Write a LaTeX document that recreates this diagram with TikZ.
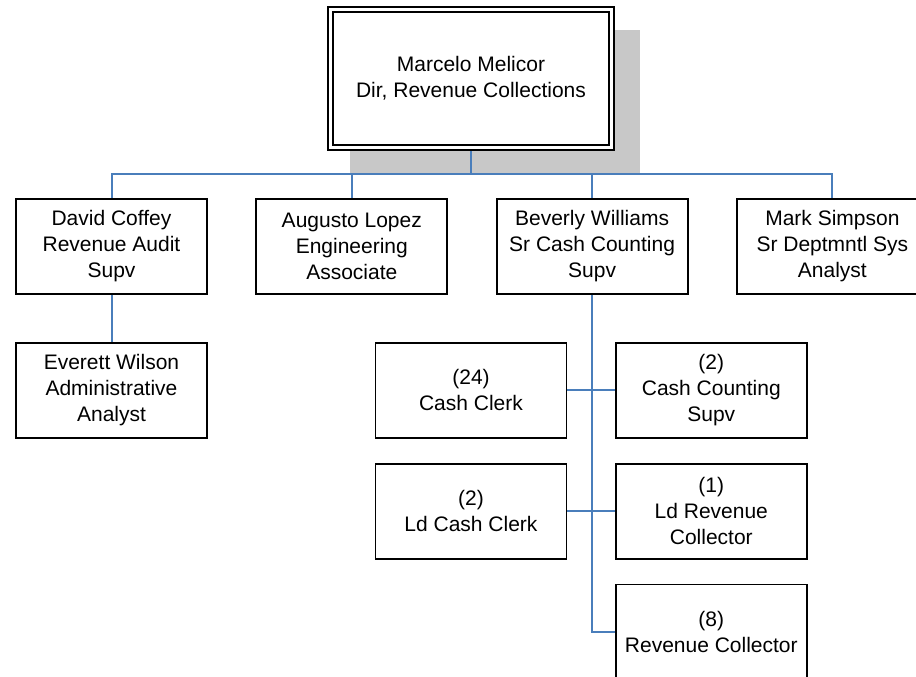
\documentclass[tikz,border=0pt]{standalone}
\usepackage{fontspec}
\setmainfont{Liberation Sans}
\usetikzlibrary{positioning,calc,backgrounds}
\definecolor{LinkBlue}{HTML}{4A7EBB}
\definecolor{Shade}{HTML}{C8C8C8}

\tikzset{
  post/.style={draw=black,line width=1.8pt,fill=white,minimum width=191pt,minimum height=95pt,
    inner sep=0pt,align=center,font=\fontsize{21}{26}\selectfont},
  link/.style={LinkBlue,line width=2pt},
}

\begin{document}
\begin{tikzpicture}[x=1pt,y=1pt]
  \useasboundingbox (0,0) rectangle (916,-677);
  \clip (0,0) rectangle (916,-677);
  % director
  \node[post,double,line width=2pt,double distance=3pt,minimum width=281pt,minimum height=138pt,
    outer sep=3.5pt] (dir) at (471,-78.5) {Marcelo Melicor\\Dir, Revenue Collections};
  \begin{scope}[on background layer]
    \fill[Shade] ($(dir.north west)+(23,-24)$) rectangle ($(dir.south east)+(25,-24)$);
  \end{scope}
  % first row
  \node[post] (david) at (111.5,-246.5) {David Coffey\\Revenue Audit\\Supv};
  \node[post,right=47.5pt of david] (augusto) {Augusto Lopez\\Engineering\\Associate};
  \node[post,right=47.5pt of augusto] (beverly) {Beverly Williams\\Sr Cash Counting\\Supv};
  \node[post,right=47.5pt of beverly] (mark) {Mark Simpson\\Sr Deptmntl Sys\\Analyst};
  \node[post,below=47pt of david] (everett) {Everett Wilson\\Administrative\\Analyst};
  % cash counting staff
  \node[post] (clerk) at (471,-390.3) {(24)\\Cash Clerk};
  \node[post,right=47.5pt of clerk] (ccsupv) {(2)\\Cash Counting\\Supv};
  \node[post,below=24pt of clerk] (ldclerk) {(2)\\Ld Cash Clerk};
  \node[post,below=24pt of ccsupv] (ldcollector) {(1)\\Ld Revenue\\Collector};
  \node[post,below=24pt of ldcollector] (collector) {(8)\\Revenue Collector};
  % connectors
  \draw[link] (dir.south) -- ++(0,-23) coordinate (bus);
  \draw[link] (david.north) |- (mark.north |- bus) -- (mark.north);
  \draw[link] (augusto.north) -- (augusto.north |- bus);
  \draw[link] (beverly.north) -- (beverly.north |- bus);
  \draw[link] (david.south) -- (everett.north);
  \draw[link] (beverly.south) |- (collector.west);
  \draw[link] (clerk.east) -- (ccsupv.west);
  \draw[link] (ldclerk.east) -- (ldcollector.west);
\end{tikzpicture}
\end{document}
